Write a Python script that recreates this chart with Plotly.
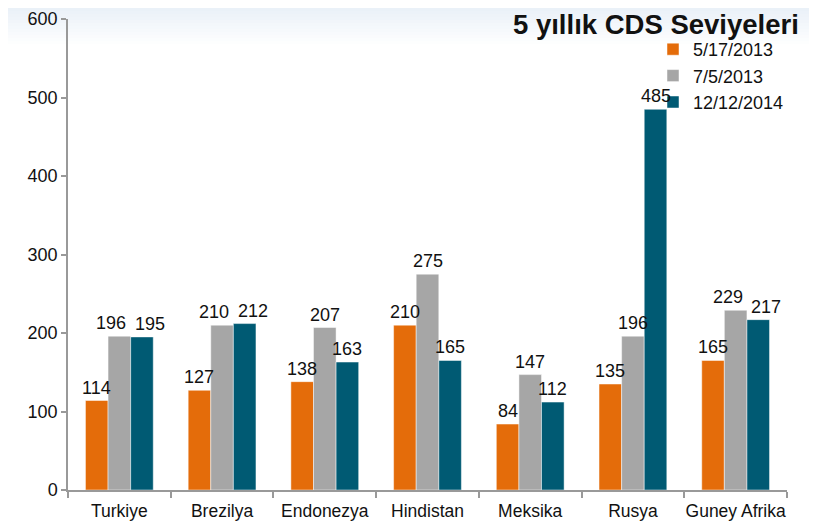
import plotly.graph_objects as go

categories = ["Turkiye", "Brezilya", "Endonezya", "Hindistan", "Meksika", "Rusya", "Guney Afrika"]
series_names = ["5/17/2013", "7/5/2013", "12/12/2014"]
s1 = [114, 127, 138, 210, 84, 135, 165]
s2 = [196, 210, 207, 275, 147, 196, 229]
s3 = [195, 212, 163, 165, 112, 485, 217]
colors = ["#E46C0A", "#A6A6A6", "#005A73"]
y_ticks = [0, 100, 200, 300, 400, 500, 600]

FONT = "Liberation Sans, Arial, sans-serif"

# page body has an 8px margin; plot area lands at screen x 68-787, y ~19-490
W, H = 817, 527
ML, MR, MT, MB = 60, 38, 11, 45
PW = W - ML - MR
PH = H - MT - MB
BARGAP = 0.34

fig = go.Figure()
all_series = [s1, s2, s3]
for name, vals, col in zip(series_names, all_series, colors):
    fig.add_trace(go.Bar(
        x=categories, y=vals, name=name,
        marker=dict(color=col, line=dict(color="rgba(255,255,255,0.6)", width=0.8)),
        cliponaxis=False,
    ))

# value labels above bars; nudge apart labels of neighbouring bars that would collide
bar_px = PW / len(categories) * (1 - BARGAP) / len(all_series)
ppu = PH / 600.0
for ci, cat in enumerate(categories):
    vals = [s[ci] for s in all_series]
    nudges = [0.0] * len(vals)
    for i in range(len(vals) - 1):
        if abs(vals[i] - vals[i + 1]) * ppu < 18:
            nudges[i] -= 8
            nudges[i + 1] += 8
    for i, v in enumerate(vals):
        fig.add_annotation(x=cat, y=v, xref="x", yref="y", text=str(v), showarrow=False,
                           xanchor="center", yanchor="bottom",
                           xshift=(i - 1) * bar_px + nudges[i], yshift=1,
                           font=dict(family=FONT, size=18, color="#111"))

# light gradient at top of the background
n = 12
top = (MT + PH) / PH
for i in range(n):
    fig.add_shape(type="rect", xref="paper", yref="paper",
                  x0=-0.2, x1=1.1, y0=top - (i + 1) * 3 / PH, y1=top - i * 3 / PH,
                  fillcolor="#E3ECF6", opacity=0.75 * (1 - i / n), line=dict(width=0), layer="below")

# title: centre at figure y 16 (screen ~24)
fig.add_annotation(text="<b>5 yıllık CDS Seviyeleri</b>", xref="paper", yref="paper",
                   x=(793 - ML) / PW, y=(MT + PH - 16) / PH, xanchor="right", yanchor="middle",
                   showarrow=False, font=dict(family=FONT, size=27.5, color="#111"))

fig.update_layout(
    width=W, height=H,
    margin=dict(l=ML, r=MR, t=MT, b=MB, autoexpand=False),
    paper_bgcolor="white", plot_bgcolor="rgba(0,0,0,0)",
    barmode="group", bargap=BARGAP, bargroupgap=0,
    font=dict(family=FONT, size=18, color="#111"),
    showlegend=True,
    legend=dict(x=(645 - ML) / PW, y=(MT + PH - 23) / PH, xanchor="left", yanchor="top",
                bgcolor="rgba(0,0,0,0)", font=dict(family=FONT, size=18, color="#111"),
                itemwidth=30, tracegroupgap=0),
    xaxis=dict(showline=True, linecolor="#999", linewidth=1.5, ticks="outside",
               tickson="boundaries", ticklen=6, tickcolor="#999", tickwidth=1.5,
               automargin=False, ticklabelstandoff=4, tickangle=0,
               ticklabeloverflow="allow",
               tickfont=dict(family=FONT, size=17.5, color="#111"), showgrid=False),
    yaxis=dict(range=[0, 600], tickvals=y_ticks, showline=True, linecolor="#999", linewidth=1.5,
               ticks="outside", ticklen=5, tickcolor="#999", tickwidth=1.5, showgrid=False,
               zeroline=False, automargin=False, ticklabeloverflow="allow",
               tickfont=dict(family=FONT, size=18, color="#111")),
)

fig.write_html("out.html")
